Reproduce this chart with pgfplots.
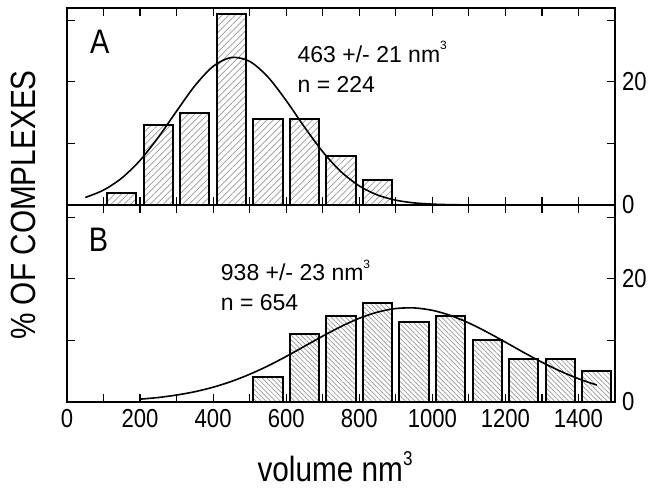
\documentclass[border=0pt]{standalone}
\usepackage{fontspec}
\setmainfont{Liberation Sans}
\newfontfamily\narrowfont{Liberation Sans}[FakeStretch=0.85]
\usepackage{pgfplots}
\pgfplotsset{compat=1.18}
\usetikzlibrary{patterns,patterns.meta}

\newcommand{\cubed}[2]{\raisebox{#1}{\fontsize{#2}{#2}\selectfont 3}}

\pgfplotsset{
  panel/.style={
    scale only axis, width=274pt, height=98.5pt,
    xmin=0, xmax=1500, ymin=0, ymax=32,
    xtick={0,200,...,1400}, minor xtick={100,300,...,1500},
    ytick={0,20}, minor ytick={10,30},
    yticklabel pos=right,
    tick align=inside,
    major tick length=4pt, minor tick length=4pt,
    every tick/.style={black, line width=0.6pt},
    axis line style={line width=0.6pt},
    tick label style={font=\narrowfont\fontsize{13}{15}\selectfont},
    /pgf/number format/assume math mode=true,
    /pgf/number format/1000 sep={},
  },
  hist/.style={ybar, bar width=80, draw=black, line width=1pt, fill=white},
  fit/.style={black, line width=0.8pt, smooth, mark=none},
}

\begin{document}
\begin{tikzpicture}
  % panel A
  \begin{axis}[panel, name=A, xticklabels={}]
    \addplot[hist, postaction={pattern={Lines[angle=45,distance=2.3pt,line width=0.35pt]}, pattern color=gray!80}]
      coordinates {(150,2) (250,13) (350,15) (450,31) (550,14) (650,14) (750,8) (850,4)};
    \addplot[fit] coordinates {
      (50,1.22) (100,2.42) (150,4.38) (200,7.25) (250,11.0) (300,15.25) (350,19.37)
      (400,22.52) (450,23.96) (500,23.33) (550,20.79) (600,16.96) (650,12.66)
      (700,8.65) (750,5.41) (800,3.10) (850,1.62) (900,0.78) (950,0.34) (1000,0.14)
      (1050,0.05) (1100,0.02) (1150,0.01) (1200,0) (1300,0) (1450,0)};
    \node[font=\narrowfont\fontsize{17}{19}\selectfont] at (axis cs:90,26.5) {A};
    \node[anchor=base west, font=\fontsize{11.5}{13}\selectfont] at (axis cs:612,23.2) {463 +/- 21 nm\cubed{6.3pt}{6}};
    \node[anchor=base west, font=\fontsize{11.5}{13}\selectfont] at (axis cs:612,18.3) {n = 224};
  \end{axis}
  % panel B
  \begin{axis}[panel, name=B, at={(A.south west)}, anchor=north west]
    \addplot[hist, postaction={pattern={Lines[angle=-45,distance=1.7pt,line width=0.35pt]}, pattern color=gray!80}]
      coordinates {(550,4) (650,11) (750,14) (850,16) (950,13) (1050,14) (1150,10) (1250,7) (1350,7) (1450,5)};
    \addplot[fit] coordinates {
      (200,0.46) (250,0.73) (300,1.13) (350,1.67) (400,2.40) (450,3.34) (500,4.50)
      (550,5.86) (600,7.40) (650,9.05) (700,10.70) (750,12.26) (800,13.60) (850,14.60)
      (900,15.18) (950,15.28) (1000,14.89) (1050,14.05) (1100,12.83) (1150,11.35)
      (1200,9.72) (1250,8.05) (1300,6.46) (1350,5.02) (1400,3.78) (1450,2.75)};
    \node[font=\narrowfont\fontsize{17}{19}\selectfont] at (axis cs:86,26.3) {B};
    \node[anchor=base west, font=\fontsize{11.5}{13}\selectfont] at (axis cs:402,19.7) {938 +/- 23 nm\cubed{6.3pt}{6}};
    \node[anchor=base west, font=\fontsize{11.5}{13}\selectfont] at (axis cs:402,14.8) {n = 654};
  \end{axis}
  \node[rotate=90, anchor=south, font=\narrowfont\fontsize{17.5}{19}\selectfont] at ([xshift=-12pt]A.south west) {\% OF COMPLEXES};
  \node[anchor=base, font=\narrowfont\fontsize{17.5}{19}\selectfont] at ([xshift=-3pt,yshift=-40pt]B.south) {volume nm\cubed{8pt}{10}};
  \path ([xshift=-33.5pt,yshift=4pt]A.north west) rectangle ([xshift=19.5pt,yshift=-44.5pt]B.south east);
\end{tikzpicture}
\end{document}
